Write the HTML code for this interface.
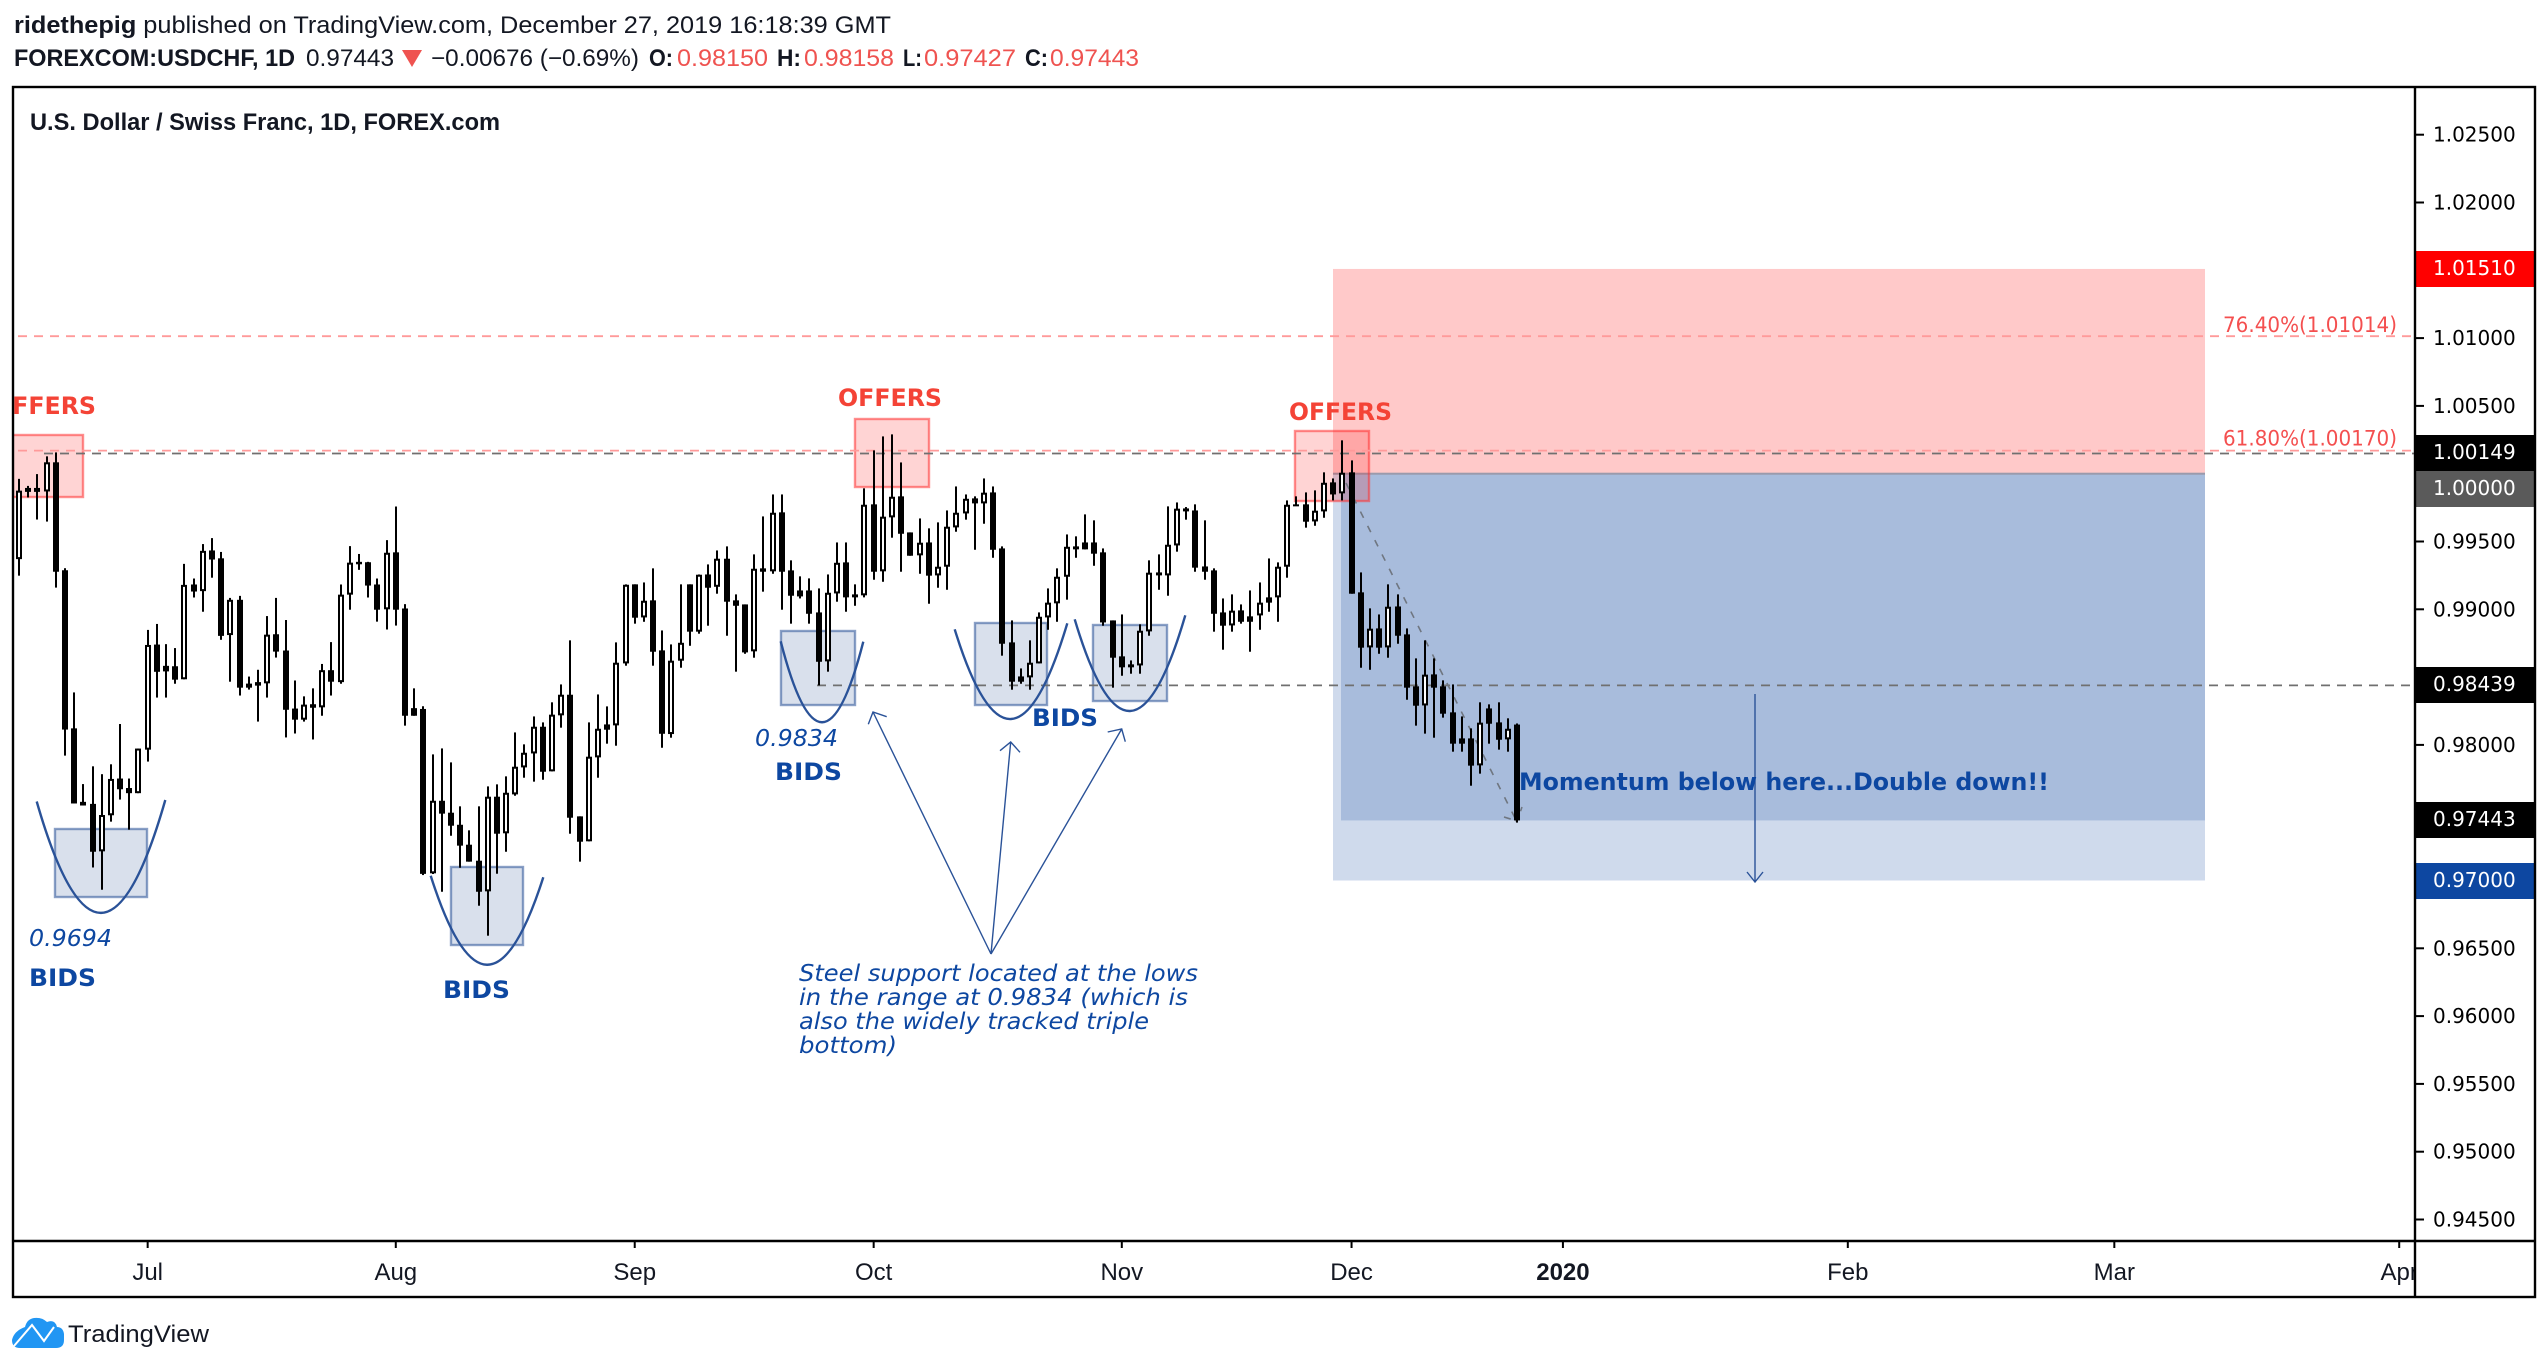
<!DOCTYPE html>
<html lang="en">
<head>
<meta charset="utf-8">
<title>USDCHF chart</title>
<style>
html,body{margin:0;padding:0;background:#fff;width:2548px;height:1370px;overflow:hidden}
svg{display:block}
.hd{font-family:"Liberation Sans",sans-serif;font-size:24px;fill:#131722}
.hb{font-weight:bold}
.red{fill:#ef5350}
.ax{font-family:"DejaVu Sans",sans-serif;font-size:20px;fill:#000}
.dt{font-family:"Liberation Sans",sans-serif;font-size:24px;fill:#131722;text-anchor:middle}
.bl{font-family:"DejaVu Sans",sans-serif;font-weight:bold;font-size:24px;fill:#0d47a1}
.it{font-family:"DejaVu Sans",sans-serif;font-style:italic;font-size:23px;fill:#0d47a1}
.of{font-family:"DejaVu Sans",sans-serif;font-weight:bold;font-size:24px;fill:#f44336}
.fb{font-family:"DejaVu Sans",sans-serif;font-size:21px;fill:#f44f4f}
</style>
</head>
<body>
<svg id="root" xmlns="http://www.w3.org/2000/svg" width="2548" height="1370" viewBox="0 0 2548 1370">
<defs><clipPath id="plot"><rect x="14" y="88" width="2400" height="1152"/></clipPath><clipPath id="tax"><rect x="14" y="1242" width="2400" height="54"/></clipPath></defs>

<text class="hd" x="14" y="33" textLength="877" lengthAdjust="spacingAndGlyphs"><tspan class="hb">ridethepig</tspan> published on TradingView.com, December 27, 2019 16:18:39 GMT</text>
<g>
<text class="hd hb" x="14" y="66" textLength="281" lengthAdjust="spacingAndGlyphs">FOREXCOM:USDCHF, 1D</text>
<text class="hd" x="306" y="66" textLength="88" lengthAdjust="spacingAndGlyphs">0.97443</text>
<polygon points="402,50 422,50 412,67" fill="#ef5350"/>
<text class="hd" x="431" y="66" textLength="208" lengthAdjust="spacingAndGlyphs">−0.00676 (−0.69%)</text>
<text class="hd hb" x="649" y="66" textLength="24" lengthAdjust="spacingAndGlyphs">O:</text>
<text class="hd red" x="677" y="66" textLength="91" lengthAdjust="spacingAndGlyphs">0.98150</text>
<text class="hd hb" x="777" y="66" textLength="24" lengthAdjust="spacingAndGlyphs">H:</text>
<text class="hd red" x="804" y="66" textLength="90" lengthAdjust="spacingAndGlyphs">0.98158</text>
<text class="hd hb" x="903" y="66" textLength="19" lengthAdjust="spacingAndGlyphs">L:</text>
<text class="hd red" x="924" y="66" textLength="92" lengthAdjust="spacingAndGlyphs">0.97427</text>
<text class="hd hb" x="1025" y="66" textLength="23" lengthAdjust="spacingAndGlyphs">C:</text>
<text class="hd red" x="1050" y="66" textLength="89" lengthAdjust="spacingAndGlyphs">0.97443</text>
</g>

<g clip-path="url(#plot)">
  <g id="zones"></g>
  <g fill="rgba(42,82,152,.18)" stroke="rgba(42,82,152,.55)" stroke-width="2.4">
    <rect x="55" y="829" width="92" height="68"/>
    <rect x="451" y="867" width="72" height="78"/>
    <rect x="781" y="631" width="74" height="74"/>
    <rect x="975" y="623" width="72" height="82"/>
    <rect x="1093" y="625" width="74" height="76"/>
  </g>
  <g fill="rgba(255,0,0,.17)" stroke="rgba(255,50,50,.55)" stroke-width="2.4">
    <rect x="5" y="435" width="78" height="62"/>
    <rect x="855" y="419" width="74" height="68"/>
    <rect x="1295" y="431" width="74" height="70"/>
  </g>
  <g id="levels"></g>
  <g stroke="#6f7680" stroke-width="1.6" fill="none">
    <line x1="1346" y1="483" x2="1516" y2="820" stroke-dasharray="7 9"/>
    <polyline points="1504,817 1517,821 1522,807" stroke-dasharray="7 5"/>
  </g>
  <g id="candles"></g>
  <g fill="none" stroke="#2a5298" stroke-width="2.4">
    <path d="M36.7 801.5Q101 1025 165.3 800"/>
    <path d="M430.7 875.7Q487 1053 543.3 877.3"/>
    <path d="M780.7 641.3Q822 803 863.3 641.7"/>
    <path d="M954.7 629.3Q1011 811.7 1067.3 623.3"/>
    <path d="M1074.7 619.3Q1130 804.7 1185.3 615.3"/>
  </g>
  <g fill="none" stroke="#2a5298" stroke-width="1.4">
    <path d="M991 954L873 712M868.3 724.3L873 712L886.7 716.7"/>
    <path d="M991 954L1010.7 742M1000 750.7L1010.7 742L1020 752.3"/>
    <path d="M991 954L1121.7 729M1107.7 732L1121.7 729L1125.3 741.7"/>
    <path d="M1755 694L1755 882M1747 872L1755 882L1763 872"/>
  </g>
  <text class="of" x="-8" y="414" textLength="104" lengthAdjust="spacingAndGlyphs">OFFERS</text>
  <text class="of" x="838" y="406" textLength="104" lengthAdjust="spacingAndGlyphs">OFFERS</text>
  <text class="of" x="1289" y="420" textLength="103" lengthAdjust="spacingAndGlyphs">OFFERS</text>
  <text class="bl" x="29" y="986" textLength="67" lengthAdjust="spacingAndGlyphs">BIDS</text>
  <text class="bl" x="443" y="998" textLength="67" lengthAdjust="spacingAndGlyphs">BIDS</text>
  <text class="bl" x="775" y="780" textLength="67" lengthAdjust="spacingAndGlyphs">BIDS</text>
  <text class="bl" x="1032" y="726" textLength="66" lengthAdjust="spacingAndGlyphs">BIDS</text>
  <text class="it" x="29" y="946" textLength="83" lengthAdjust="spacingAndGlyphs">0.9694</text>
  <text class="it" x="755" y="746" textLength="83" lengthAdjust="spacingAndGlyphs">0.9834</text>
  <g>
    <text class="it" x="799" y="981" textLength="399" lengthAdjust="spacingAndGlyphs">Steel support located at the lows</text>
    <text class="it" x="799" y="1005" textLength="389" lengthAdjust="spacingAndGlyphs">in the range at 0.9834 (which is</text>
    <text class="it" x="799" y="1029" textLength="350" lengthAdjust="spacingAndGlyphs">also the widely tracked triple</text>
    <text class="it" x="799" y="1053" textLength="98" lengthAdjust="spacingAndGlyphs">bottom)</text>
  </g>
  <text class="bl" x="1519" y="790" textLength="530" lengthAdjust="spacingAndGlyphs">Momentum below here...Double down!!</text>
  <text id="fib1" class="fb" x="2223" textLength="174" lengthAdjust="spacingAndGlyphs">76.40%(1.01014)</text>
  <text id="fib2" class="fb" x="2223" textLength="174" lengthAdjust="spacingAndGlyphs">61.80%(1.00170)</text>
  <text class="hd hb" x="30" y="130" textLength="470" lengthAdjust="spacingAndGlyphs">U.S. Dollar / Swiss Franc, 1D, FOREX.com</text>
</g>

<g id="yaxis"></g>
<g id="xaxis" clip-path="url(#tax)"></g>

<g fill="none" stroke="#000" stroke-width="2.4">
  <rect x="13" y="87" width="2522" height="1210"/>
  <line x1="2415" y1="87" x2="2415" y2="1297"/>
  <line x1="13" y1="1241" x2="2535" y2="1241"/>
</g>

<g>
  <path d="M12 1340Q12 1348 20 1348L56 1348Q64 1348 64 1340L64 1334Q63 1327 57 1327Q55 1319 47 1322Q42 1317 34 1318Q27 1319 25 1327Q14 1331 12 1340Z" fill="#2196f3"/>
  <polyline points="14,1346 32,1325 44,1341 54,1327" fill="none" stroke="#fff" stroke-width="2"/>
  <text class="hd" x="68" y="1342" textLength="141" lengthAdjust="spacingAndGlyphs">TradingView</text>
</g>
</svg>

<script>
var opens=[.99370,.99895,.99895,.99869,1.00084,.99288,.98122,.97580,.97565,.97215,
.97481,.97752,.97682,.97644,.97965,.98740,.98583,.98580,.98484,.99183,
.99134,.99434,.99376,.98810,.99070,.98452,.98463,.98454,.98816,.98696,
.98268,.98186,.98300,.98277,.98551,.98463,.99108,.99350,.99347,.99183,
.99000,.99420,.99006,.98271,.98265,
.97053,.97588,.97500,.97411,.97264,.97146,.96920,.97618,.97348,.97635,
.97834,.97937,.98134,.97805,.98218,.98370,.97473,.97289,.97908,.98151,
.98144,.98601,.99184,.98940,.99066,.98697,.98080,.98621,.99184,.98835,
.99257,.99166,.99373,.99066,.99036,.98690,.99302,.99280,.99715,.99287,
.99139,.99139,.98977,.98616,.99117,.99346,
.99110,.99103,.99774,.99280,.99678,.99833,.99567,.99398,.99493,.99250,
.99314,.99604,.99707,.99818,.99781,.99862,.99449,.98756,.98505,.98498,
.98601,.98940,.99044,.99240,.99464,.99493,.99493,.99420,.98918,.98653,
.98594,.98586,.98837,.99272,.99250,.99471,.99744,.99729,.99316,.99287,
.98977,.98881,.98992,.98948,.98955,.99088,
.99088,.99314,.99774,.99774,.99648,.99722,.99936,.99855,1.00010,.99125,
.98719,.98859,.98719,.99021,.98815,.98432,.98291,.98520,.98432,.98240,
.98048,.98048,.97849,.98269,.98166,.98041,.98150];
var highs=[.99962,.99910,.99997,1.00128,1.00157,.99303,.98387,.97711,.97842,.97784,
.97857,.98154,.97752,.97973,.98848,.98892,.98743,.98714,.99335,.99227,
.99481,.99525,.99423,.99084,.99099,.98504,.98554,.98950,.99084,.98921,
.98475,.98358,.98417,.98597,.98758,.99183,.99466,.99408,.99350,.99227,
.99510,.99758,.99038,.98417,.98285,
.97930,.97974,.97871,.97547,.97370,.97547,.97694,.97709,.97768,.98092,
.98004,.98210,.98166,.98314,.98446,.98771,.97473,.98166,.98372,.98284,
.98756,.99184,.99184,.99198,.99302,.98844,.98741,.99184,.99184,.99257,
.99331,.99434,.99464,.99110,.99036,.99405,.99685,.99847,.99847,.99361,
.99243,.99228,.99154,.99257,.99493,.99493,
.99184,.99892,1.00172,1.00275,1.00290,1.00083,.99567,.99670,.99597,.99641,
.99729,.99906,.99847,.99833,.99965,.99906,.99464,.98918,.98564,.98771,
.98977,.99154,.99302,.99552,.99538,.99700,.99656,.99449,.98918,.98962,
.98623,.98889,.99361,.99405,.99759,.99788,.99754,.99774,.99656,.99302,
.99080,.99110,.99036,.99139,.99198,.99375,
.99346,.99803,.99833,.99862,.99877,1.00010,.99965,1.00246,1.00098,.99272,
.99007,.98962,.99184,.99110,.98859,.98638,.98771,.98638,.98476,.98446,
.98210,.98122,.98314,.98299,.98314,.98196,.98158];
var lows=[.99248,.99825,.99662,.99647,.99160,.97921,.97568,.97553,.97096,.96932,
.97434,.97597,.97375,.97644,.97877,.98349,.98349,.98451,.98484,.99087,
.98982,.99233,.98775,.98466,.98364,.98408,.98172,.98349,.98644,.98055,
.98084,.98172,.98040,.98215,.98364,.98451,.98997,.99291,.99087,.98909,
.98851,.98880,.98142,.98215,.97040,
.97048,.96917,.97330,.97094,.97139,.96814,.96593,.97050,.97212,.97625,
.97758,.97729,.97743,.97805,.98127,.97345,.97139,.97289,.97758,.98009,
.97994,.98584,.98894,.98908,.98584,.97979,.98053,.98569,.98731,.98820,
.98879,.99115,.98805,.98540,.98672,.98643,.99130,.99262,.98997,.98894,
.99080,.98894,.98439,.98540,.99056,.98982,
.99026,.99088,.99218,.99203,.99528,.99277,.99395,.99262,.99041,.99159,
.99144,.99572,.99661,.99439,.99631,.99380,.98658,.98407,.98451,.98407,
.98601,.98849,.98908,.99071,.99380,.99442,.99321,.98879,.98422,.98510,
.98525,.98525,.98805,.99144,.99100,.99425,.99661,.99277,.99218,.98835,
.98702,.98835,.98894,.98687,.98849,.98982,
.98908,.99233,.99766,.99602,.99616,.99675,.99803,.99803,.99115,.98569,
.98554,.98672,.98643,.98746,.98333,.98142,.98083,.98053,.98201,.97950,
.97950,.97699,.97788,.98009,.97965,.97950,.97427];
var closes=[.99875,.99866,.99866,1.00084,.99277,.98113,.97568,.97553,.97212,.97483,
.97749,.97673,.97644,.97973,.98737,.98539,.98542,.98481,.99180,.99131,
.99431,.99367,.98804,.99070,.98422,.98422,.98437,.98813,.98688,.98259,
.98186,.98297,.98274,.98551,.98466,.99108,.99344,.99332,.99175,.98997,
.99417,.98997,.98215,.98215,.97049,
.97588,.97493,.97404,.97257,.97139,.96917,.97618,.97345,.97647,.97839,
.97942,.98134,.97802,.98223,.98370,.97463,.97286,.97913,.98119,.98112,
.98606,.99181,.98938,.99063,.98687,.98082,.98621,.98753,.98835,.99255,
.99159,.99373,.99056,.99026,.98682,.99299,.99277,.99712,.99277,.99100,
.99095,.98967,.98613,.99122,.99343,.99088,
.99088,.99771,.99277,.99683,.99830,.99557,.99395,.99491,.99248,.99314,
.99609,.99712,.99815,.99781,.99860,.99439,.98746,.98466,.98466,.98606,
.98945,.99049,.99240,.99461,.99442,.99442,.99410,.98903,.98643,.98572,
.98572,.98842,.99270,.99250,.99476,.99742,.99722,.99307,.99277,.98967,
.98879,.98990,.98908,.98908,.99049,.99049,
.99314,.99771,.99766,.99646,.99727,.99933,.99847,1.00007,.99115,.98717,
.98857,.98717,.99019,.98805,.98422,.98289,.98518,.98422,.98230,.98009,
.98009,.97847,.98164,.98156,.98038,.98119,.97443];
var priceTicks=[1.025,1.02,1.01,1.005,.995,.99,.98,.965,.96,.955,.95,.945];
var priceTickLabels=["1.02500","1.02000","1.01000","1.00500","0.99500","0.99000","0.98000","0.96500","0.96000","0.95500","0.95000","0.94500"];
var markerPrices=[1.0151,1.00149,1.0,.98439,.97443,.97];
var markerLabels=["1.01510","1.00149","1.00000","0.98439","0.97443","0.97000"];
var dateBars=[14,41,67,93,120,145,168,199,228,259];
var dateLabels=["Jul","Aug","Sep","Oct","Nov","Dec","2020","Feb","Mar","Apr"];
var stopPrice=1.0151,entryPrice=1.0,targetPrice=.97,lastPrice=.97443;
var fibPrices=[1.01014,1.0017];
var supportPrice=.98439,resistancePrice=1.00149;

var NS="http://www.w3.org/2000/svg";
function yScale(p){return 473.7+(1-p)*13560;}
function xScale(i){return 19+9.19*i;}
function mk(tag,parent){var e=document.createElementNS(NS,tag);parent.appendChild(e);return e;}
function setRect(r,x,y,w,h,fill){r.setAttribute("x",x);r.setAttribute("y",y);r.setAttribute("width",w);r.setAttribute("height",h);r.setAttribute("fill",fill);}

/* zones */
var zones=document.getElementById("zones");
var zx1=2205;
var zs=mk("rect",zones);


setRect(zs,1333,yScale(stopPrice),zx1-1333,yScale(entryPrice)-yScale(stopPrice),"rgba(255,0,0,.21)");
var zt=mk("rect",zones);


setRect(zt,1333,yScale(entryPrice),zx1-1333,yScale(targetPrice)-yScale(entryPrice),"rgba(13,71,161,.2)");
var zm=mk("rect",zones);


setRect(zm,1341,yScale(entryPrice),zx1-1341,yScale(lastPrice)-yScale(entryPrice),"rgba(13,71,161,.2)");
var ze=mk("rect",zones);


setRect(ze,1333,yScale(entryPrice)-1,zx1-1333,2,"#9a9aac");

/* levels */
var levels=document.getElementById("levels");
function hline(x0,x1,p,color,dash,w,el){el.setAttribute("x1",x0);el.setAttribute("x2",x1);el.setAttribute("y1",yScale(p));el.setAttribute("y2",yScale(p));el.setAttribute("stroke",color);el.setAttribute("stroke-dasharray",dash);el.setAttribute("stroke-width",w);}
var l1=mk("line",levels);


hline(18,2412,fibPrices[0],"#ff9a9a","9 7",1.8,l1);
var l2=mk("line",levels);


hline(18,2412,fibPrices[1],"#ff9a9a","9 7",1.8,l2);
var l3=mk("line",levels);


hline(44,2414,resistancePrice,"#707070","9 7",1.8,l3);
var l4=mk("line",levels);


hline(817,2414,supportPrice,"#707070","9 7",1.8,l4);
document.getElementById("fib1").setAttribute("y",yScale(fibPrices[0])-4);
document.getElementById("fib2").setAttribute("y",yScale(fibPrices[1])-5);

/* candles */
var cg=document.getElementById("candles");
for(var i=0;i<opens.length;i++){
  var cx=Math.round(xScale(i));
  var g=mk("g",cg);
  
  
  var wick=mk("rect",g);
  
  
  setRect(wick,cx-1,yScale(highs[i]),2,Math.max(1,yScale(lows[i])-yScale(highs[i])),"#000");
  var bodyTop=yScale(Math.max(opens[i],closes[i]));
  var bodyBottom=yScale(Math.min(opens[i],closes[i]));
  var candleBody=mk("rect",g);
  
  
  if(closes[i]>=opens[i]){
    setRect(candleBody,cx-2,bodyTop+1,4,Math.max(1,bodyBottom-bodyTop-2),"#fff");
    candleBody.setAttribute("stroke","#000");
    candleBody.setAttribute("stroke-width","2");
  }else{
    setRect(candleBody,cx-3,bodyTop,6,Math.max(2,bodyBottom-bodyTop),"#000");
  }
}

/* price axis */
var ya=document.getElementById("yaxis");
for(var t=0;t<priceTicks.length;t++){
  var ty=yScale(priceTicks[t]);
  var tk=mk("rect",ya);
  
  
  setRect(tk,2415,ty-1,9,2,"#000");
  var tl=mk("text",ya);
  
  
  tl.setAttribute("class","ax");
  tl.setAttribute("x",2433);
  tl.setAttribute("y",ty+7);
  tl.textContent=priceTickLabels[t];
}
var markerFills=["#ff0000","#000000","#5a5a5a","#000000","#000000","#0d47a1"];
var prevBottom=-1000;
for(var m=0;m<markerPrices.length;m++){
  var boxTop=Math.max(Math.round(yScale(markerPrices[m]))-18,prevBottom);
  prevBottom=boxTop+36;
  var mb=mk("rect",ya);
  
  
  setRect(mb,2414,boxTop,120,36,markerFills[m]);
  var ml=mk("text",ya);
  
  
  ml.setAttribute("class","ax");
  ml.setAttribute("x",2433);
  ml.setAttribute("y",boxTop+24);
  ml.style.fill="#fff";
  ml.textContent=markerLabels[m];
}

/* time axis */
var xa=document.getElementById("xaxis");
for(var d=0;d<dateBars.length;d++){
  var dx=xScale(dateBars[d]);
  var dk=mk("rect",xa);
  
  
  setRect(dk,dx-1,1241,2,7,"#000");
  var dl=mk("text",xa);
  
  
  dl.setAttribute("class","dt");
  dl.setAttribute("x",dx);
  dl.setAttribute("y",1280);
  if(dateLabels[d]==="2020"){dl.setAttribute("font-weight","bold");}
  dl.textContent=dateLabels[d];
}
</script>
</body>
</html>
